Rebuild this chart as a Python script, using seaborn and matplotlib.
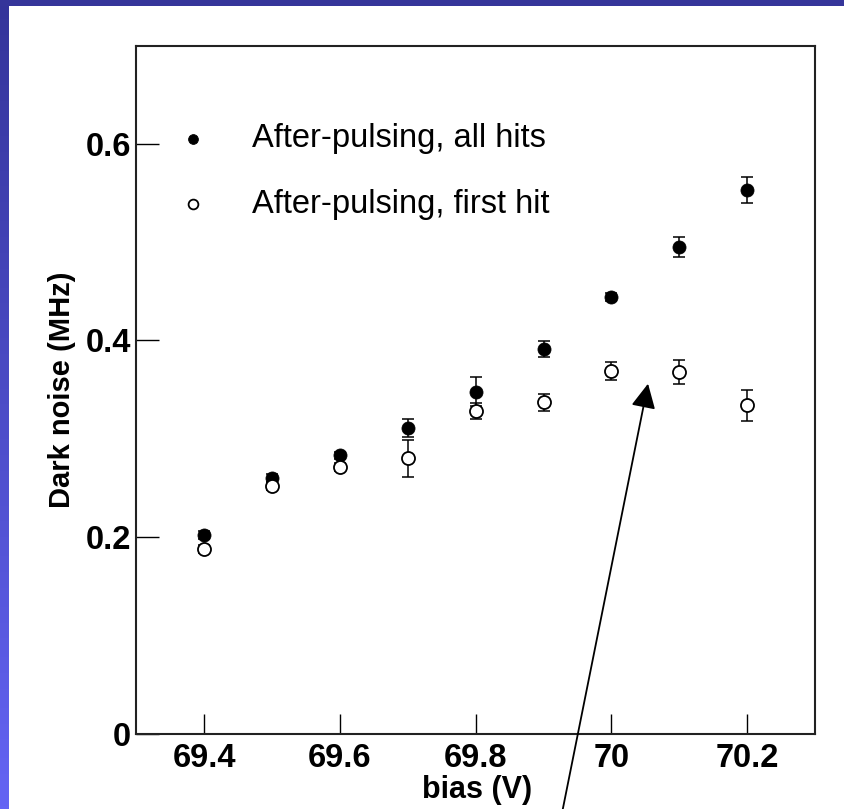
import numpy as np
import matplotlib
matplotlib.use("Agg")
import matplotlib.pyplot as plt
from matplotlib.patches import Rectangle
from matplotlib.colors import LinearSegmentedColormap
import seaborn as sns

# Measured dark-noise rates versus bias voltage
bias = [69.4, 69.5, 69.6, 69.7, 69.8, 69.9, 70.0, 70.1, 70.2]
all_hits = [0.202, 0.260, 0.283, 0.311, 0.348, 0.391, 0.444, 0.495, 0.553]
all_hits_err = [0.004, 0.004, 0.004, 0.009, 0.015, 0.008, 0.004, 0.010, 0.013]
first_hit = [0.188, 0.252, 0.271, 0.280, 0.328, 0.337, 0.369, 0.368, 0.334]
first_hit_err = [0.004, 0.004, 0.004, 0.019, 0.008, 0.009, 0.009, 0.012, 0.016]

series_labels = ["After-pulsing, all hits", "After-pulsing, first hit"]
x_ticks = [69.4, 69.6, 69.8, 70.0, 70.2]
x_tick_labels = ["69.4", "69.6", "69.8", "70", "70.2"]
y_ticks = [0.0, 0.2, 0.4, 0.6]
y_tick_labels = ["0", "0.2", "0.4", "0.6"]

sns.set_theme(style="ticks")
plt.rcParams["font.family"] = ["Liberation Sans", "DejaVu Sans"]
plt.rcParams["text.color"] = "black"
plt.rcParams["axes.labelcolor"] = "black"

W, H = 845, 809
fig = plt.figure(figsize=(W / 100, H / 100), dpi=100)
fig.patch.set_facecolor("white")

# slide frame: dark bar on top, shaded strip on the left
strip = fig.add_axes([0, 0, 9 / W, 1])
grad = np.linspace(0, 1, 256).reshape(-1, 1)
strip.imshow(grad, aspect="auto", origin="upper",
             cmap=LinearSegmentedColormap.from_list("frame", ["#34349a", "#6464f4"]),
             extent=[0, 1, 0, 1])
strip.set_axis_off()
fig.add_artist(Rectangle((0, 1 - 6 / H), 1, 6 / H, transform=fig.transFigure,
                         facecolor="#35359a", edgecolor="none", zorder=5))

ax = fig.add_axes([136.3 / W, 1 - 733.5 / H, (815 - 136.3) / W, (733.5 - 45.7) / H])
ax.set_facecolor("white")

ax.errorbar(bias, all_hits, yerr=all_hits_err, fmt="none", ecolor="black",
            elinewidth=1.1, capsize=4, capthick=1.1, zorder=2)
ax.errorbar(bias, first_hit, yerr=first_hit_err, fmt="none", ecolor="black",
            elinewidth=1.1, capsize=4, capthick=1.1, zorder=2)

sns.scatterplot(x=bias, y=all_hits, ax=ax, marker="o", s=88, color="black",
                edgecolor="black", linewidth=0.6, zorder=3, label=series_labels[0])
sns.scatterplot(x=bias, y=first_hit, ax=ax, marker="o", s=88, color="white",
                edgecolor="black", linewidth=1.3, zorder=3, label=series_labels[1])

ax.set_xlim(69.3, 70.3)
ax.set_ylim(0, 0.7)
ax.set_xticks(x_ticks)
ax.set_xticklabels(x_tick_labels)
ax.set_yticks(y_ticks)
ax.set_yticklabels(y_tick_labels)

ax.tick_params(axis="both", direction="in", width=1.0, color="black",
               labelsize=23.5, labelcolor="black")
ax.tick_params(axis="x", length=14.5, pad=7)
ax.tick_params(axis="y", length=16.5, pad=4)
for lab in ax.get_xticklabels() + ax.get_yticklabels():
    lab.set_fontweight("bold")

for side in ["left", "bottom", "top", "right"]:
    ax.spines[side].set_visible(True)
    ax.spines[side].set_color("#222222")
    ax.spines[side].set_linewidth(1.5)

ax.set_xlabel("bias (V)", fontsize=22, fontweight="bold", color="black")
ax.set_ylabel("Dark noise (MHz)", fontsize=21, fontweight="bold", color="black")
ax.xaxis.set_label_coords(0.502, -0.060)
ax.yaxis.set_label_coords(-0.089, 0.5)

leg = ax.legend(loc="upper left", bbox_to_anchor=(0.0595, 0.887), frameon=False,
                fontsize=23.5, markerscale=0.75, handlelength=1.0, handletextpad=1.31,
                labelspacing=1.06, borderpad=0, borderaxespad=0, labelcolor="black")

# pointer from below the frame up to the first-hit plateau
ax.annotate("", xy=(70.054, 0.356), xycoords="data",
            xytext=(562 / W, -0.005), textcoords="figure fraction",
            arrowprops=dict(arrowstyle="-|>,head_length=0.6,head_width=0.3",
                            color="black", lw=1.3, mutation_scale=25,
                            shrinkA=0, shrinkB=0),
            annotation_clip=False, zorder=6)

fig.savefig("out.png", dpi=100, facecolor="white")
